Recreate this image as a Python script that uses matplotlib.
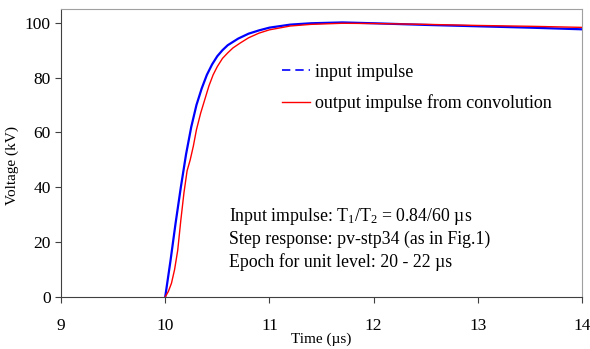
import matplotlib
matplotlib.use("Agg")
import matplotlib.pyplot as plt
from matplotlib.lines import Line2D

plt.rcParams['font.family'] = ['Liberation Serif', 'DejaVu Serif']
plt.rcParams['mathtext.fontset'] = 'custom'
plt.rcParams['mathtext.rm'] = 'Liberation Serif'
plt.rcParams['mathtext.it'] = 'Liberation Serif:italic'

# values (time in us, voltage in kV)
t_in = [10.0, 10.05, 10.10, 10.15, 10.20, 10.25, 10.30, 10.35, 10.40, 10.45,
        10.50, 10.55, 10.60, 10.70, 10.80, 10.90, 11.00, 11.20, 11.40, 11.70,
        12.00, 12.50, 13.00, 13.50, 14.00]
v_in = [0, 13, 27, 40, 52, 62, 70, 76, 81, 84.8,
        87.8, 90, 91.8, 94.2, 96, 97.2, 98.2, 99.3, 99.8, 100.1,
        99.8, 99.2, 98.7, 98.2, 97.6]

t_out = [10.0, 10.03, 10.06, 10.09, 10.12, 10.15, 10.18, 10.21, 10.24, 10.27,
         10.30, 10.34, 10.38, 10.42, 10.46, 10.50, 10.55, 10.60, 10.65, 10.72,
         10.80, 10.90, 11.00, 11.20, 11.40, 11.70, 12.00, 12.50, 13.00, 13.50, 14.00]
v_out = [0, 2, 5, 10, 17, 28, 38, 46, 50, 55,
         61, 67, 72, 77, 81, 84, 87, 89, 90.8, 92.6,
         94.5, 96.2, 97.4, 98.8, 99.4, 99.8, 99.7, 99.4, 99.0, 98.7, 98.3]

x_ticks = [9, 10, 11, 12, 13, 14]
y_ticks = [0, 20, 40, 60, 80, 100]
labels = ['input impulse', 'output impulse from convolution']
notes = ['Input impulse: T$_1$/T$_2$ = 0.84/60 \u00b5s',
         'Step response: pv-stp34 (as in Fig.1)',
         'Epoch for unit level: 20 - 22 \u00b5s']

fig = plt.figure(figsize=(5.9, 3.49), dpi=100)
ax = fig.add_axes([61/590, 1-297/349, 521/590, 288/349])

ax.plot(t_in, v_in, color='#0000ff', lw=1.6)
ax.plot(t_out, v_out, color='#ff0000', lw=1.0)

ax.set_xlim(9, 14)
ax.set_ylim(0, 105)
ax.set_xticks(x_ticks)
ax.set_yticks(y_ticks)
ax.tick_params(labelsize=12.5, length=4, color='#404040', direction='out')
ax.tick_params(axis='x', pad=11)
for s in ['left', 'bottom']:
    ax.spines[s].set_color('#404040')
for s in ['top', 'right']:
    ax.spines[s].set_color('#a0a0a0')

ax.set_xlabel('Time (\u00b5s)', fontsize=11, labelpad=-1)
ax.set_ylabel('Voltage (kV)', fontsize=11)
ax.yaxis.set_label_coords(-0.08, 0.455)

handles = [Line2D([], [], color='#0000ff', lw=1.2, ls=(0, (5, 3))),
           Line2D([], [], color='#ff0000', lw=1.0)]
ax.legend(handles, labels, loc='upper left', bbox_to_anchor=(0.425, 0.81),
          frameon=False, fontsize=13, handlelength=1.5, handletextpad=0.3,
          labelspacing=0.75, borderpad=0, borderaxespad=0)

for i, s in enumerate(notes):
    ax.text(0.3225, 0.281 - i*0.08, s, transform=ax.transAxes,
            fontsize=12.8, va='center', ha='left')

fig.savefig('out.png', dpi=100)
